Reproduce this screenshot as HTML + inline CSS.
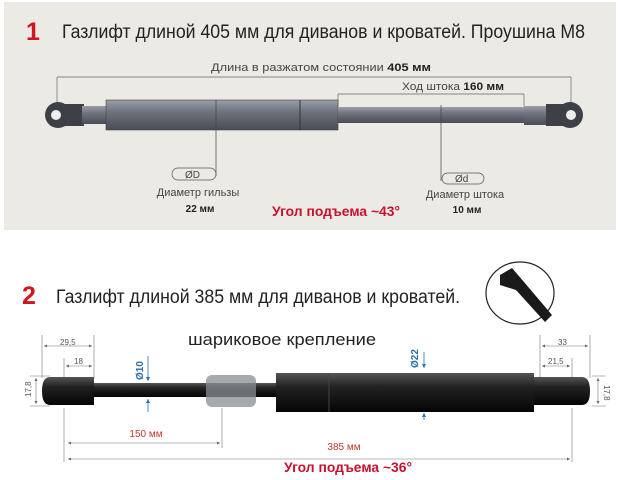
<!DOCTYPE html>
<html><head><meta charset="utf-8"><style>
html,body{margin:0;padding:0;background:#fff;width:628px;height:480px;overflow:hidden}
svg{display:block}
text{font-family:"Liberation Sans Narrow","Liberation Sans",sans-serif}
</style></head><body>
<svg width="628" height="480" viewBox="0 0 628 480" xmlns="http://www.w3.org/2000/svg">
<defs>
<linearGradient id="g1" x1="0" y1="0" x2="0" y2="1"><stop offset="0" stop-color="#9a9ea8"/><stop offset=".4" stop-color="#6e727c"/><stop offset="1" stop-color="#4a4d55"/></linearGradient>
<linearGradient id="g2" x1="0" y1="0" x2="0" y2="1"><stop offset="0" stop-color="#555"/><stop offset=".35" stop-color="#222"/><stop offset="1" stop-color="#050505"/></linearGradient>
<marker id="a" viewBox="0 0 10 10" refX="10" refY="5" markerWidth="5" markerHeight="5" orient="auto-start-reverse"><path d="M0 0L10 5L0 10z" fill="#666"/></marker>
<marker id="b" viewBox="0 0 10 10" refX="10" refY="5" markerWidth="5" markerHeight="5" orient="auto-start-reverse"><path d="M0 0L10 5L0 10z" fill="#2a6fa8"/></marker>
</defs>
<rect x="4" y="2" width="612" height="228" fill="#eceae5"/>
<text x="26" y="40" font-size="25" fill="#d0161e" font-weight="bold">1</text>
<text x="62" y="38" font-size="19" fill="#222" textLength="523" lengthAdjust="spacingAndGlyphs">Газлифт длиной 405 мм для диванов и кроватей. Проушина М8</text>
<text x="211" y="71" font-size="11" fill="#444" textLength="220" lengthAdjust="spacingAndGlyphs">Длина в разжатом состоянии <tspan font-weight="bold" fill="#222">405 мм</tspan></text>
<path d="M57 77H571M57 77V112M571 77V112" stroke="#666" stroke-width=".7" fill="none"/>
<text x="402" y="90" font-size="11" fill="#444" textLength="102" lengthAdjust="spacingAndGlyphs">Ход штока <tspan font-weight="bold" fill="#222">160 мм</tspan></text>
<path d="M338 94H524M338 94V106M524 94V106" stroke="#666" stroke-width=".7" fill="none"/>
<circle cx="58" cy="115" r="13" fill="#3e4047"/><rect x="58" y="104" width="26" height="22" fill="#3e4047"/><circle cx="56" cy="115" r="5" fill="#eee"/>
<rect x="82" y="106" width="24" height="18" fill="url(#g1)"/>
<rect x="106" y="100" width="232" height="30" fill="url(#g1)" stroke="#444" stroke-width=".6"/>
<line x1="300" y1="100" x2="300" y2="130" stroke="#333"/>
<rect x="338" y="107" width="186" height="16" fill="url(#g1)"/>
<rect x="524" y="106" width="26" height="19" fill="url(#g1)"/>
<circle cx="570" cy="115" r="13" fill="#3e4047"/><rect x="546" y="104" width="24" height="22" fill="#3e4047"/><circle cx="571" cy="115" r="5" fill="#eee"/>
<path d="M216 100V176M441 105V181" stroke="#444" stroke-width=".7"/>
<rect x="172" y="168" width="44" height="12" rx="6" fill="none" stroke="#555" stroke-width=".7"/>
<text x="185" y="178" font-size="10" fill="#444">ØD</text>
<rect x="442" y="173" width="42" height="11" rx="5.5" fill="none" stroke="#555" stroke-width=".7"/>
<text x="455" y="182" font-size="10" fill="#444">Ød</text>
<text x="198" y="196" font-size="11" fill="#444" text-anchor="middle">Диаметр гильзы</text>
<text x="200" y="212" font-size="10" fill="#222" text-anchor="middle" font-weight="bold">22 мм</text>
<text x="465" y="198" font-size="11" fill="#444" text-anchor="middle">Диаметр штока</text>
<text x="467" y="213" font-size="10" fill="#222" text-anchor="middle" font-weight="bold">10 мм</text>
<text x="272" y="216" font-size="14" fill="#c8102e" font-weight="bold" textLength="128" lengthAdjust="spacingAndGlyphs">Угол подъема ~43°</text>

<text x="22" y="304" font-size="25" fill="#d0161e" font-weight="bold">2</text>
<text x="56" y="303" font-size="19" fill="#222" textLength="404" lengthAdjust="spacingAndGlyphs">Газлифт длиной 385 мм для диванов и кроватей.</text>
<ellipse cx="520" cy="293" rx="34" ry="31" fill="#fff" stroke="#222" stroke-width="1.2"/>
<path d="M500 275L512 268L524 282L552 315L545 322L516 290L500 285Z" fill="#1a1a1a"/>
<text x="188" y="345" font-size="17" fill="#222" textLength="188" lengthAdjust="spacingAndGlyphs">шариковое крепление</text>
<g stroke="#777" stroke-width=".6" fill="none">
<path d="M42 335V378M94 335V378M64 358V378M590 335V378M540 335V378M572 358V378"/>
<path d="M44 346H92" marker-start="url(#a)" marker-end="url(#a)"/>
<path d="M66 366H92" marker-start="url(#a)" marker-end="url(#a)"/>
<path d="M542 346H588" marker-start="url(#a)" marker-end="url(#a)"/>
<path d="M542 366H570" marker-start="url(#a)" marker-end="url(#a)"/>
<path d="M30 376H50M30 406H50M592 376H606M592 406H606"/>
<path d="M36 378V404" marker-start="url(#a)" marker-end="url(#a)"/>
<path d="M598 378V404" marker-start="url(#a)" marker-end="url(#a)"/>
<path d="M64 408V462M222 408V448M572 408V462"/>
<path d="M68 443H220" marker-start="url(#a)" marker-end="url(#a)"/>
<path d="M68 459H570" marker-start="url(#a)" marker-end="url(#a)"/>
</g>
<text x="60" y="345" font-size="8" fill="#555">29,5</text>
<text x="74" y="364" font-size="8" fill="#555">18</text>
<text x="558" y="345" font-size="8" fill="#555">33</text>
<text x="548" y="364" font-size="8" fill="#555">21,5</text>
<text x="0" y="0" font-size="8" fill="#555" transform="translate(31 397) rotate(-90)">17,8</text>
<text x="0" y="0" font-size="8" fill="#555" transform="translate(604 385) rotate(90)">17,8</text>
<text x="146" y="437" font-size="10" fill="#c0392b" text-anchor="middle">150 мм</text>
<text x="344" y="450" font-size="10" fill="#c0392b" text-anchor="middle">385 мм</text>
<text x="0" y="0" font-size="10" fill="#2a6fa8" font-weight="bold" transform="translate(143 380) rotate(-90)">Ø10</text>
<text x="0" y="0" font-size="10" fill="#2a6fa8" font-weight="bold" transform="translate(418 368) rotate(-90)">Ø22</text>
<g stroke="#2a6fa8" stroke-width=".8">
<path d="M148 356V381" marker-end="url(#b)"/><path d="M148 412V399" marker-end="url(#b)"/>
<path d="M424 352V368" marker-end="url(#b)"/><path d="M424 420V413" marker-end="url(#b)"/>
</g>
<rect x="94" y="383" width="182" height="14" fill="url(#g2)"/>
<rect x="206" y="375" width="50" height="32" rx="6" fill="#8a8d92" opacity=".75"/>
<rect x="276" y="373" width="258" height="39" fill="url(#g2)"/>
<line x1="329" y1="373" x2="329" y2="412" stroke="#444"/>
<path d="M50 377H94V405H50Q42 405 42 391Q42 377 50 377Z" fill="url(#g2)"/>
<path d="M534 377H582Q590 377 590 391Q590 405 582 405H534Z" fill="url(#g2)"/>
<text x="284" y="472" font-size="14" fill="#c8102e" font-weight="bold" textLength="128" lengthAdjust="spacingAndGlyphs">Угол подъема ~36°</text>
</svg>
</body></html>
